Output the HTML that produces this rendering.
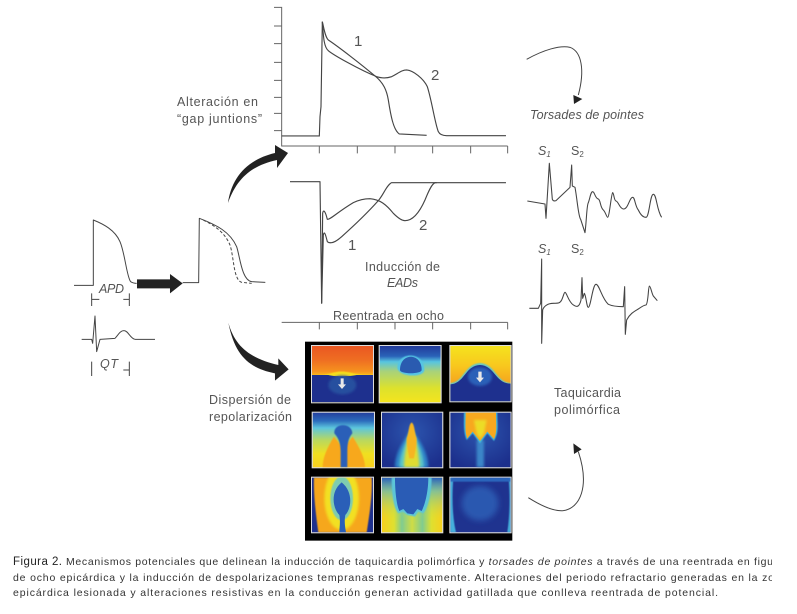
<!DOCTYPE html>
<html><head><meta charset="utf-8"><style>
html,body{margin:0;padding:0;background:#fff;width:797px;height:614px;overflow:hidden}
svg{display:block;filter:blur(.3px)}
text{font-family:"Liberation Sans",sans-serif;fill:#555;font-size:12.5px}
.c{font-size:10.5px;fill:#333}
</style></head><body>
<svg width="797" height="614" viewBox="0 0 797 614" xmlns="http://www.w3.org/2000/svg">
<defs>
<filter id="b" x="-30%" y="-30%" width="160%" height="160%"><feGaussianBlur stdDeviation="4"/></filter>
<filter id="bb" x="-40%" y="-40%" width="180%" height="180%"><feGaussianBlur stdDeviation="9"/></filter>
<filter id="s" x="-20%" y="-20%" width="140%" height="140%"><feGaussianBlur stdDeviation="1.5"/></filter>
<linearGradient id="g11" x1="0" y1="0" x2="0" y2="1"><stop offset="0" stop-color="#ea5722"/><stop offset=".25" stop-color="#ef6e22"/><stop offset=".45" stop-color="#f6921e"/><stop offset=".52" stop-color="#f9b91c"/></linearGradient>
<linearGradient id="g12" x1="0" y1="0" x2="0" y2="1"><stop offset="0" stop-color="#223a9a"/><stop offset=".18" stop-color="#2a62b8"/><stop offset=".28" stop-color="#57c5e0"/><stop offset=".45" stop-color="#a8d27a"/><stop offset=".75" stop-color="#dde22c"/><stop offset="1" stop-color="#f4e41e"/></linearGradient>
<linearGradient id="g13" x1="0" y1="0" x2="0" y2="1"><stop offset="0" stop-color="#f5e31e"/><stop offset=".35" stop-color="#f8c81e"/><stop offset=".7" stop-color="#f5a21e"/></linearGradient>
<linearGradient id="g21" x1="0" y1="0" x2="0" y2="1"><stop offset="0" stop-color="#24409e"/><stop offset=".15" stop-color="#2c6cbc"/><stop offset=".28" stop-color="#5cc6dd"/><stop offset=".5" stop-color="#b8d860"/><stop offset=".75" stop-color="#f0e020"/><stop offset="1" stop-color="#f8d01e"/></linearGradient>
<radialGradient id="gb" cx=".5" cy=".35" r=".7"><stop offset="0" stop-color="#2c55ae"/><stop offset="1" stop-color="#1c2f8c"/></radialGradient>
<linearGradient id="g32" x1="0" y1="0" x2="1" y2="0"><stop offset="0" stop-color="#f6d01e"/><stop offset=".2" stop-color="#dfe030"/><stop offset=".33" stop-color="#80cc90"/><stop offset=".5" stop-color="#cfdc45"/><stop offset=".67" stop-color="#80cc90"/><stop offset=".82" stop-color="#dfe030"/><stop offset="1" stop-color="#f6d01e"/></linearGradient>
<linearGradient id="g32b" x1="0" y1="0" x2="0" y2="1"><stop offset="0" stop-color="#2a5fb8"/><stop offset=".25" stop-color="#46b0d8" stop-opacity=".6"/><stop offset=".75" stop-color="#b8d860" stop-opacity="0"/></linearGradient>
<clipPath id="p11"><rect x="36" y="33" width="183" height="169"/></clipPath>
<clipPath id="p12"><rect x="239" y="33" width="183" height="169"/></clipPath>
<clipPath id="p13"><rect x="451" y="33" width="181" height="166"/></clipPath>
<clipPath id="p21"><rect x="38" y="233" width="184" height="164"/></clipPath>
<clipPath id="p22"><rect x="246" y="233" width="181" height="164"/></clipPath>
<clipPath id="p23"><rect x="451" y="233" width="181" height="164"/></clipPath>
<clipPath id="p31"><rect x="36" y="428" width="183" height="164"/></clipPath>
<clipPath id="p32"><rect x="246" y="428" width="181" height="164"/></clipPath>
<clipPath id="p33"><rect x="451" y="428" width="181" height="164"/></clipPath>
<clipPath id="cap"><rect x="0" y="550" width="772" height="60"/></clipPath>
</defs>

<!-- panel 1 -->
<g transform="translate(270,0) scale(.3333)" fill="none" stroke="#666" stroke-width="3">
<path d="M12,22H35V438H713M12,78H35M12,131H35M12,187H35M12,241H35M12,292H35M12,340H35M12,392H35M148,438V460M262,438V460M375,438V460M488,438V460M602,438V460M713,438V460"/>
<path stroke="#444" stroke-width="3.4" d="M35,408H148L150,350L153,320L157,65C162,85 165,110 175,120C205,140 270,190 320,232C340,250 350,270 355,300C362,345 370,390 388,402L470,406"/>
<path stroke="#444" stroke-width="3.4" d="M157,65C160,100 160,140 175,152C190,165 270,210 320,230C335,235 350,235 365,230C385,220 395,210 410,210C430,212 460,235 472,260C485,300 495,370 505,395C510,405 520,407 530,407H708"/>
</g>
<text x="354" y="46" style="font-size:15px">1</text>
<text x="431" y="80" style="font-size:15px">2</text>
<text x="177" y="106" textLength="81">Alteración en</text>
<text x="177" y="123" textLength="85">“gap juntions”</text>

<!-- panel 2 -->
<g transform="translate(270,160) scale(.3333)" fill="none" stroke="#444" stroke-width="3.4" stroke-linejoin="round">
<path d="M60,65H150L155,430L158,160C160,148 165,150 172,178C180,180 200,158 250,128C270,118 285,116 300,116C330,118 350,135 370,160C385,175 395,182 405,182C425,182 445,165 465,120C475,95 485,72 495,68H708"/>
<path d="M155,430L160,225C163,210 167,225 172,245C180,252 195,248 215,230C260,190 300,150 325,122C340,105 350,75 365,68H500"/>
<path stroke="#666" stroke-width="3" d="M35,487H713M148,487V508M262,487V508M375,487V508M488,487V508M602,487V508M713,487V508"/>
</g>
<text x="348" y="250" style="font-size:15px">1</text>
<text x="419" y="230" style="font-size:15px">2</text>
<text x="365" y="271" textLength="75">Inducción de</text>
<text x="387" y="287" textLength="31" font-style="italic">EADs</text>
<text x="333" y="320" textLength="111">Reentrada en ocho</text>

<!-- left traces -->
<g transform="translate(60,200) scale(.3333)" fill="none" stroke="#444" stroke-width="3" stroke-linejoin="round">
<path d="M42,256H100V60C130,72 165,90 180,125C195,160 200,230 212,245Q220,250 230,250"/>
<path d="M368,248H416L418,55C470,75 510,95 530,140C540,170 545,240 575,245L616,247"/>
<path stroke-dasharray="9 6" d="M430,60C470,80 495,100 510,135C522,170 520,240 545,247L575,250"/>
<path d="M95,280V318M208,280V318M95,298H118M190,298H208"/>
<path d="M65,418H95L98,430L105,348L110,455L120,418L165,415C175,405 180,392 192,392C205,392 210,415 225,418H285"/>
<path d="M95,485V528M208,485V528M190,510H208"/>
<path fill="#222" stroke="none" d="M231,238H330V222L368,250L330,280V265H231Z"/>
</g>
<text x="99" y="293" textLength="25" font-style="italic">APD</text>
<text x="100" y="368" textLength="18" font-style="italic">QT</text>

<!-- thick arrows -->
<path fill="#222" d="M228,203C231,180 245,160 275,153L275,145L288,153L277,168L277,160C255,165 238,175 228,203Z"/>
<g transform="translate(60,200) scale(.3333)"><path fill="#222" d="M505,368C525,440 570,475 655,495V475L686,508L645,542V520C570,505 525,470 505,368Z"/></g>
<text x="209" y="404" textLength="82">Dispersión de</text>
<text x="209" y="421" textLength="83">repolarización</text>

<!-- heat maps -->
<g transform="translate(300,335) scale(.3333)">
<rect x="15" y="20" width="622" height="597" fill="#000"/>
<rect x="33" y="30" width="189" height="175" fill="#ddd"/><rect x="236" y="30" width="189" height="175" fill="#ddd"/><rect x="448" y="30" width="187" height="172" fill="#ddd"/>
<g clip-path="url(#p11)">
<rect x="36" y="33" width="183" height="169" fill="url(#g11)"/>
<path d="M36,122C90,122 95,110 125,110C155,110 165,122 219,120V202H36Z" fill="#f5e01e" filter="url(#s)"/>
<path d="M36,120H85C100,125 150,125 170,120H219V202H36Z" fill="#1e308e"/>
<ellipse cx="127" cy="150" rx="42" ry="28" fill="#28509f" filter="url(#b)"/>
<path d="M122,130h9v18h7l-12,14l-12,-14h8z" fill="#e8e8e8"/>
</g>
<g clip-path="url(#p12)">
<rect x="239" y="33" width="183" height="169" fill="url(#g12)"/>
<path d="M292,100C292,48 373,48 373,105C373,128 300,128 292,100Z" fill="#55c5e5" filter="url(#s)"/>
<path d="M300,105C300,52 365,52 365,105C365,118 300,118 300,105Z" fill="#2a5bb0"/>
</g>
<g clip-path="url(#p13)">
<rect x="451" y="33" width="181" height="166" fill="url(#g13)"/>
<path d="M451,144C492,142 492,87 540,84C588,87 588,142 632,144V199H451Z" fill="#6ac8c0" filter="url(#s)"/>
<path d="M451,148C495,145 495,92 540,90C585,92 585,145 632,146V199H451Z" fill="#1e308e"/>
<ellipse cx="540" cy="125" rx="36" ry="28" fill="#2c60b8" filter="url(#b)"/>
<path d="M535,110h10v18h7l-12,14l-12,-14h7z" fill="#e8e8e8"/>
</g>
<rect x="35" y="230" width="190" height="170" fill="#ddd"/><rect x="243" y="230" width="187" height="170" fill="#ddd"/><rect x="448" y="230" width="187" height="170" fill="#ddd"/>
<g clip-path="url(#p21)">
<rect x="38" y="233" width="184" height="164" fill="url(#g21)"/>
<path d="M102,305C80,340 68,370 68,397H125V340C120,325 110,315 102,305Z" fill="#f7a81f" filter="url(#s)"/>
<path d="M158,305C180,340 195,370 195,397H135V340C140,325 150,315 158,305Z" fill="#f7a81f" filter="url(#s)"/>
<path d="M103,295C100,262 157,262 157,295C148,305 142,320 142,350V397H122V350C122,320 112,305 103,295Z" fill="#2a5fb8" filter="url(#s)"/>
</g>
<g clip-path="url(#p22)">
<rect x="246" y="233" width="181" height="164" fill="url(#gb)"/>
<path d="M335,280C355,310 385,350 385,397H285C285,350 315,310 335,280Z" fill="#2d82c8" filter="url(#b)"/>
<path d="M335,285C350,315 372,355 372,397H298C298,355 320,315 335,285Z" fill="#5cc6c8" filter="url(#b)"/>
<path d="M335,275C345,310 358,350 358,397H312C312,350 325,310 335,275Z" fill="#e0dc30" filter="url(#b)"/>
<path d="M335,262C345,270 342,290 350,310C350,335 345,350 342,370H328C325,350 320,335 320,310C328,290 325,270 335,262Z" fill="#f5b520" filter="url(#s)"/>
</g>
<g clip-path="url(#p23)">
<rect x="451" y="233" width="181" height="164" fill="url(#gb)"/>
<rect x="530" y="315" width="22" height="82" fill="#3a85c8" filter="url(#b)"/>
<path d="M492,232H592C592,270 598,290 582,318L562,295L540,325L518,295L500,315C490,290 492,270 492,232Z" fill="#45b8d8" filter="url(#s)"/>
<path d="M497,232H588C588,270 592,290 582,312L562,290L540,318L518,290L502,310C494,290 497,270 497,232Z" fill="#f7a81f"/>
<path d="M522,255H560L552,295L540,312L530,295Z" fill="#ecdc28" filter="url(#b)"/>
</g>
<rect x="33" y="425" width="189" height="170" fill="#ddd"/><rect x="243" y="425" width="187" height="170" fill="#ddd"/><rect x="448" y="425" width="187" height="170" fill="#ddd"/>
<g clip-path="url(#p31)">
<rect x="36" y="428" width="183" height="164" fill="#1e308e"/>
<path d="M42,428H215C218,480 208,540 200,592H55C48,540 40,480 42,428Z" fill="#f6a71f" filter="url(#s)"/>
<ellipse cx="125" cy="490" rx="52" ry="95" fill="#f2e021" filter="url(#b)"/>
<ellipse cx="125" cy="490" rx="34" ry="66" fill="#7fccb0" filter="url(#s)"/>
<path d="M125,442C160,470 155,520 136,540C132,560 136,580 138,592H118C118,580 122,560 118,540C98,520 90,470 125,442Z" fill="#2a5fb8"/>
</g>
<g clip-path="url(#p32)">
<rect x="246" y="428" width="181" height="164" fill="url(#g32)"/>
<rect x="246" y="428" width="181" height="164" fill="url(#g32b)"/>
<path d="M275,428H395C395,470 385,520 370,535L355,530L345,545L322,540L308,530L295,535C280,520 275,470 275,428Z" fill="#5cc5d8" filter="url(#s)"/>
<path d="M285,428H385C385,470 375,510 365,528L352,522L340,538L322,535L310,522L298,528C290,510 285,470 285,428Z" fill="#2a5cb5"/>
</g>
<g clip-path="url(#p33)">
<rect x="451" y="428" width="181" height="164" fill="#1f338f"/>
<path d="M451,428H460C456,480 456,540 468,592H451Z" fill="#45b0dc" filter="url(#s)"/>
<path d="M632,428H626C630,480 630,540 622,592H632Z" fill="#45b0dc" filter="url(#s)"/>
<ellipse cx="540" cy="505" rx="55" ry="52" fill="#2b58b0" filter="url(#bb)"/>
<rect x="451" y="428" width="181" height="12" fill="#2a66bc" filter="url(#s)"/>
</g>
</g>

<!-- right top -->
<g transform="translate(510,30) scale(.3333)" fill="none" stroke="#444" stroke-width="3">
<path d="M50,88C100,60 150,45 180,52C215,65 225,120 205,195"/>
<path fill="#222" stroke="none" d="M190,195L217,207L192,222Z"/>
</g>
<text x="530" y="119" textLength="114" font-style="italic">Torsades de pointes</text>
<text x="538" y="155" font-style="italic">S<tspan dy="2" style="font-size:8px">1</tspan></text>
<text x="571" y="155">S<tspan dy="2" style="font-size:8px">2</tspan></text>
<g transform="translate(520,130) scale(.3333)" fill="none" stroke="#444" stroke-width="3.2" stroke-linejoin="round">
<path d="M22,213L75,222L78,265L88,100L97,208Q100,215 108,212L150,172L155,105L157,168L165,172C172,210 175,260 182,268L195,308C200,270 200,225 205,218C210,205 212,185 218,185C224,185 225,205 235,207C242,210 240,232 250,240C256,245 260,262 263,262C268,262 274,190 278,188C282,190 282,212 288,213C296,215 298,235 310,237C325,238 328,202 338,202C345,202 345,228 355,240C362,255 370,262 378,262C388,262 390,193 400,193C410,193 410,240 425,262"/>
</g>
<text x="538" y="253" font-style="italic">S<tspan dy="2" style="font-size:8px">1</tspan></text>
<text x="571" y="253">S<tspan dy="2" style="font-size:8px">2</tspan></text>
<g transform="translate(520,235) scale(.3333)" fill="none" stroke="#444" stroke-width="3.2" stroke-linejoin="round">
<path d="M28,220H55L62,205L65,72V325L68,225C72,212 85,205 100,205C115,205 120,205 125,195C130,185 132,172 135,172C140,172 145,200 160,210C170,217 178,217 183,195L186,128L188,190L193,175C198,180 200,217 205,217C212,217 218,148 228,148C238,148 245,190 265,208C280,215 300,215 310,215L314,155L316,298L320,255C330,235 345,228 355,222C365,215 372,210 378,210C385,205 385,153 388,153C392,153 395,175 400,183L412,197"/>
</g>

<!-- right bottom -->
<text x="554" y="397" textLength="67">Taquicardia</text>
<text x="554" y="414" textLength="66">polimórfica</text>
<g transform="translate(510,380) scale(.3333)" fill="none" stroke="#444" stroke-width="3">
<path d="M55,353C90,375 130,395 160,392C210,385 240,320 205,215"/>
<path fill="#222" stroke="none" d="M190,190L215,208L192,222Z"/>
</g>

<!-- caption -->
<g clip-path="url(#cap)">
<text class="c" x="13" y="565" textLength="49" style="font-size:11.5px;fill:#222">Figura 2.</text>
<text class="c" x="66" y="565" textLength="707">Mecanismos potenciales que delinean la inducción de taquicardia polimórfica y <tspan font-style="italic">torsades de pointes</tspan> a través de una reentrada en figu</text>
<text class="c" x="13" y="581" textLength="761">de ocho epicárdica y la inducción de despolarizaciones tempranas respectivamente. Alteraciones del periodo refractario generadas en la zo</text>
<text class="c" x="13" y="596" textLength="705">epicárdica lesionada y alteraciones resistivas en la conducción generan actividad gatillada que conlleva reentrada de potencial.</text>
</g>
</svg>
</body></html>
